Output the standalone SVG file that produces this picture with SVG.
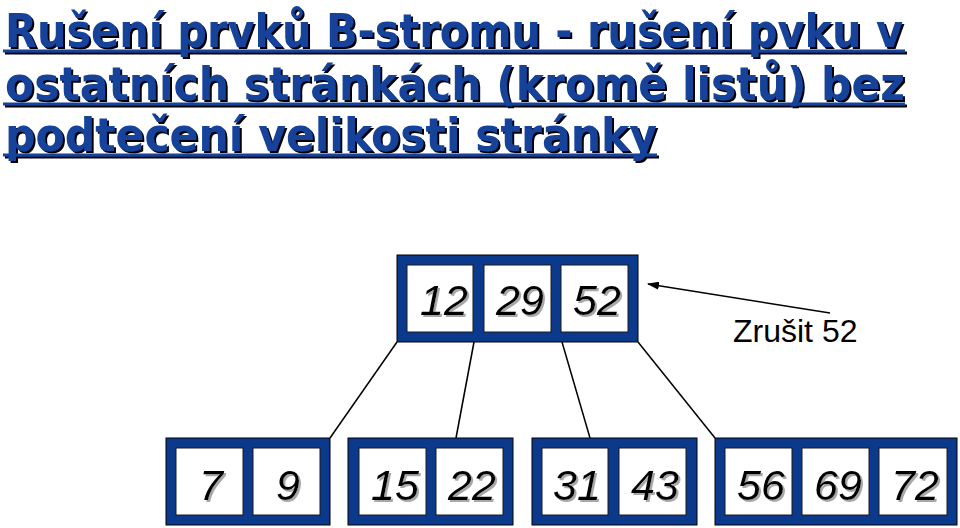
<svg xmlns="http://www.w3.org/2000/svg" width="960" height="528" viewBox="0 0 960 528">
<defs>
<marker id="ah" viewBox="0 0 12 8" refX="11" refY="4" markerWidth="12" markerHeight="8" markerUnits="userSpaceOnUse" orient="auto">
<path d="M0,0 L12,4 L0,8 z" fill="#000"/>
</marker>
<filter id="shT" x="-5%" y="-20%" width="110%" height="150%">
<feOffset in="SourceAlpha" dx="2" dy="2" result="o"/>
<feFlood flood-color="#000"/>
<feComposite in2="o" operator="in" result="s"/>
<feMerge><feMergeNode in="s"/><feMergeNode in="SourceGraphic"/></feMerge>
</filter>
<filter id="shN" x="-20%" y="-20%" width="150%" height="150%">
<feOffset in="SourceAlpha" dx="2" dy="2" result="o"/>
<feFlood flood-color="#a8a8a8"/>
<feComposite in2="o" operator="in" result="s"/>
<feMerge><feMergeNode in="s"/><feMergeNode in="SourceGraphic"/></feMerge>
</filter>
</defs>
<style>
.t{font-family:"DejaVu Sans Condensed","DejaVu Sans",sans-serif;font-size:46px;font-weight:bold;fill:#12429a}
.ul{stroke:#12429a;stroke-width:3}
.node{fill:#0b3a8d;stroke:#000;stroke-width:1}
.cell{fill:#fff;stroke:#1a1a1a;stroke-width:1}
.num{font-family:"Liberation Sans",Arial,sans-serif;font-style:italic;font-size:43px;text-anchor:middle;fill:#000}
.edge{stroke:#000;stroke-width:1.5;fill:none}
.lbl{font-family:"Liberation Sans",Arial,sans-serif;font-size:32px;fill:#000}
</style>
<g id="title" filter="url(#shT)">
<line class="ul" x1="3" y1="51" x2="905" y2="51"/>
<line class="ul" x1="3" y1="104" x2="905" y2="104"/>
<line class="ul" x1="3" y1="155" x2="657" y2="155"/>
<text class="t" x="5" y="47" textLength="898" lengthAdjust="spacingAndGlyphs">Rušení prvků B-stromu - rušení pvku v</text>
<text class="t" x="5" y="100" textLength="900" lengthAdjust="spacingAndGlyphs">ostatních stránkách (kromě listů) bez</text>
<text class="t" x="5" y="151" textLength="652" lengthAdjust="spacingAndGlyphs">podtečení velikosti stránky</text>
</g>
<g id="connectors">
<line class="edge" x1="397" y1="342" x2="330" y2="438"/>
<line class="edge" x1="474" y1="342" x2="456" y2="438"/>
<line class="edge" x1="562" y1="342" x2="590" y2="438"/>
<line class="edge" x1="638" y1="342" x2="715" y2="438"/>
<line class="edge" x1="830" y1="313" x2="648" y2="284" marker-end="url(#ah)"/>
</g>
<g id="root">
<rect class="node" x="397" y="255" width="241" height="87"/>
<rect class="cell" x="407" y="265" width="66" height="67"/>
<rect class="cell" x="484" y="265" width="67" height="67"/>
<rect class="cell" x="561" y="265" width="67" height="67"/>
<g filter="url(#shN)">
<text class="num" x="444" y="315">12</text>
<text class="num" x="520" y="315">29</text>
<text class="num" x="597" y="315">52</text>
</g>
</g>
<g id="leaf1">
<rect class="node" x="166" y="438" width="164" height="87"/>
<rect class="cell" x="176" y="448" width="67" height="67"/>
<rect class="cell" x="253" y="448" width="67" height="67"/>
<g filter="url(#shN)">
<text class="num" x="211" y="500">7</text>
<text class="num" x="288" y="500">9</text>
</g>
</g>
<g id="leaf2">
<rect class="node" x="348" y="438" width="165" height="87"/>
<rect class="cell" x="359" y="448" width="67" height="67"/>
<rect class="cell" x="436" y="448" width="67" height="67"/>
<g filter="url(#shN)">
<text class="num" x="395" y="500">15</text>
<text class="num" x="472" y="500">22</text>
</g>
</g>
<g id="leaf3">
<rect class="node" x="532" y="438" width="165" height="87"/>
<rect class="cell" x="542" y="448" width="66" height="67"/>
<rect class="cell" x="619" y="448" width="67" height="67"/>
<g filter="url(#shN)">
<text class="num" x="577" y="500">31</text>
<text class="num" x="655" y="500">43</text>
</g>
</g>
<g id="leaf4">
<rect class="node" x="715" y="438" width="242" height="87"/>
<rect class="cell" x="725" y="448" width="67" height="67"/>
<rect class="cell" x="802" y="448" width="67" height="67"/>
<rect class="cell" x="879" y="448" width="68" height="67"/>
<g filter="url(#shN)">
<text class="num" x="761" y="500">56</text>
<text class="num" x="838" y="500">69</text>
<text class="num" x="915" y="500">72</text>
</g>
</g>
<g id="label">
<text class="lbl" x="733" y="342">Zrušit 52</text>
</g>
</svg>
